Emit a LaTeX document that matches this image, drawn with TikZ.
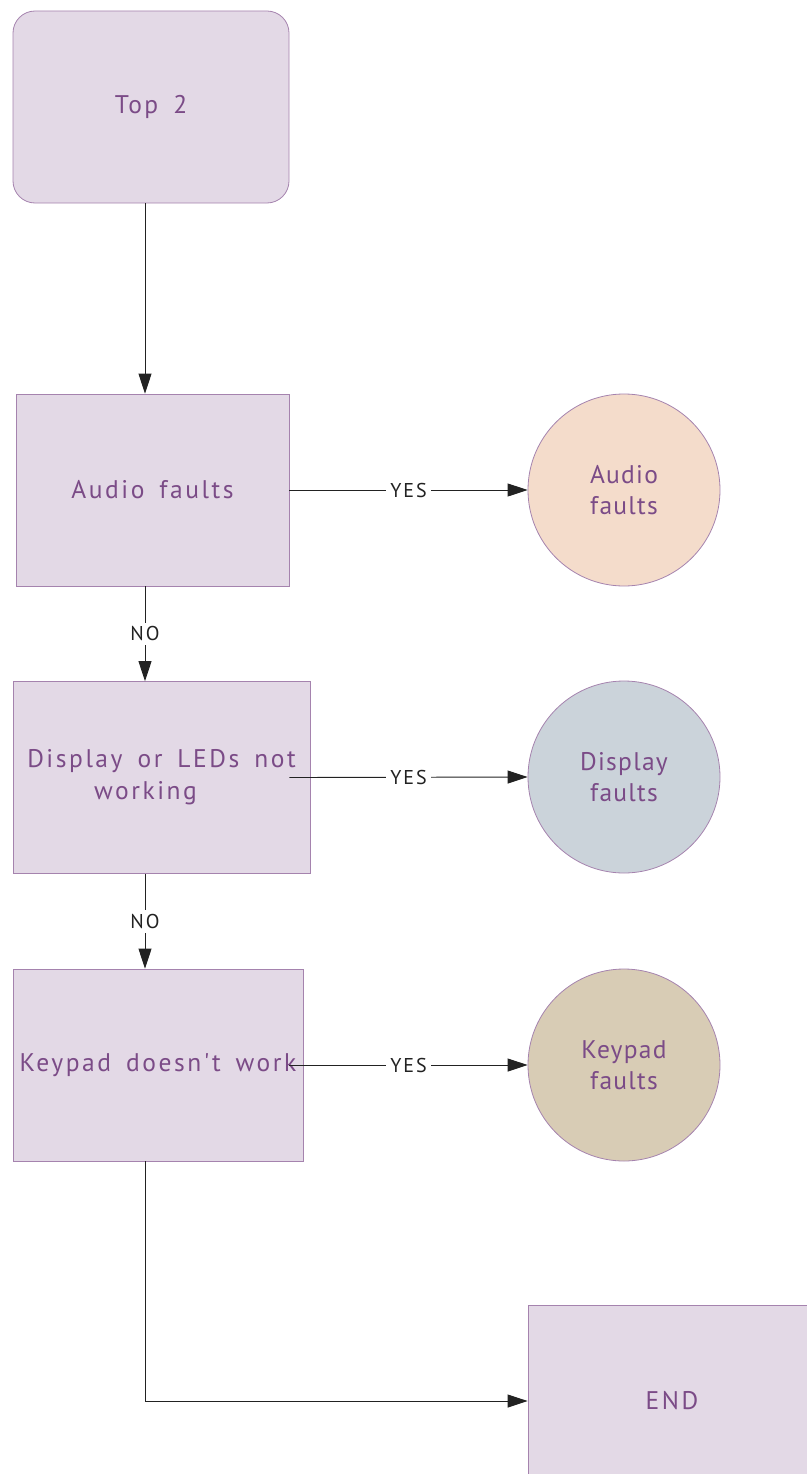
\documentclass[tikz,border=0pt]{standalone}
\usepackage{fontspec}
\setmainfont{PT Sans}
\newfontfamily\boxfont{PT Sans}[LetterSpace=10]
\newfontfamily\ballfont{PT Sans}[LetterSpace=5]
\newfontfamily\lblfont{PT Sans}[LetterSpace=10]
\usetikzlibrary{arrows.meta}

% wide word gaps in the box labels
\newcommand\boxtype{\boxfont\fontsize{25.5}{32}\selectfont\spaceskip=15pt plus 2pt\relax}

\definecolor{boxfill}{HTML}{E3D9E6}
\definecolor{boxline}{HTML}{A583AE}
\definecolor{boxtext}{HTML}{7B4B87}
\definecolor{peach}{HTML}{F4DCCB}
\definecolor{slate}{HTML}{CBD3DA}
\definecolor{sand}{HTML}{D8CCB5}
\definecolor{wire}{HTML}{222222}

\tikzset{
    box/.style={draw=boxline, fill=boxfill, text=boxtext, line width=0.8pt,
        minimum height=192pt, inner sep=0pt, align=center, font=\boxtype},
    ball/.style={circle, draw=boxline, line width=0.8pt, minimum size=192pt,
        inner sep=0pt, text=boxtext, align=center,
        font=\ballfont\fontsize{25.5}{31}\selectfont},
    arr/.style={draw=wire, line width=0.9pt, -{Triangle[length=20pt,width=13pt]}},
    wirelbl/.style={fill=white, inner sep=4pt, text=wire,
        font=\lblfont\fontsize{20}{20}\selectfont}
}

\begin{document}
\begin{tikzpicture}[x=1pt,y=-1pt]
    \useasboundingbox (0,0) rectangle (806,1474);
    \coordinate (spine) at (145,0);

    % left column
    \node[box, rounded corners=22pt, minimum width=276pt] (top) at (151,107) {Top 2};
    \node[box, minimum width=273pt] (audio) at (152.5,490) {Audio faults};
    \node[box, minimum width=297pt] (display) at (161.5,777.5) {Display or LEDs not\\working\hspace*{32pt}};
    \node[box, minimum width=290pt] (keypad) at (158,1065) {Keypad doesn't work};

    % right column
    \node[ball, fill=peach] (audioF) at (624,490) {Audio\\faults};
    \node[ball, fill=slate] (displayF) at (624,777) {Display\\faults};
    \node[ball, fill=sand] (keypadF) at (624,1065) {Keypad\\faults};
    \node[box, minimum width=288pt] (endbox) at (672,1401) {END};

    % flow
    \draw[arr] (top.south -| spine) -- (audio.north -| spine);
    \draw[arr] (audio.south -| spine) -- node[wirelbl]{NO} (display.north -| spine);
    \draw[arr] (display.south -| spine) -- node[wirelbl]{NO} (keypad.north -| spine);
    \draw[arr] (keypad.south -| spine) |- (endbox.west);

    \draw[arr] (audio.east) -- node[wirelbl]{YES} (audioF.west);
    \draw[arr] (display.east -| audio.east) -- node[wirelbl]{YES} (displayF.west);
    \draw[arr] (keypad.east -| audio.east) -- node[wirelbl]{YES} (keypadF.west);
\end{tikzpicture}
\end{document}
